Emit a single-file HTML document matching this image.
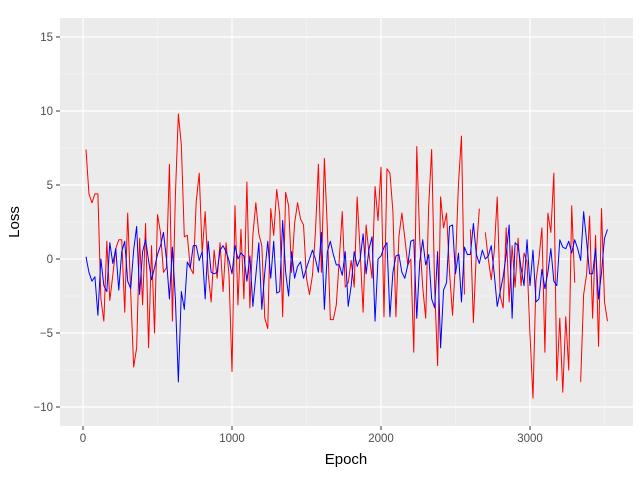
<!DOCTYPE html>
<html><head><meta charset="utf-8"><style>
html,body{margin:0;padding:0;background:#fff;}
svg{display:block;font-family:"Liberation Sans",sans-serif;}
</style></head><body>
<svg id="chart" width="640" height="480">
<rect x="60" y="18" width="573" height="408" fill="#ebebeb"/>
<g id="grid"></g><g id="series"></g><g id="axes"></g>
<text x="346" y="464" text-anchor="middle" font-size="15" fill="#000">Epoch</text>
<text transform="translate(19,222) rotate(-90)" text-anchor="middle" font-size="15" fill="#000">Loss</text>
</svg>
<script>
const epochStart = 20, epochStep = 20;
const redLoss = [7.4,4.4,3.8,4.4,4.4,-2.7,-4.2,1.2,-2.8,-1.1,
0.7,1.3,1.3,-3.6,3.1,-2.2,-7.3,-6.0,1.4,-3.1,
2.4,-6.0,0.9,-5.0,3.0,1.8,-0.9,-0.6,6.4,-4.2,
4.3,9.8,7.7,1.5,1.6,-0.6,-1.0,3.9,5.8,0.4,
3.2,-1.0,-2.9,0.6,-1.3,1.1,-2.2,1.1,-1.1,-7.6,
3.6,-3.1,2.0,-2.7,5.2,-3.3,1.6,3.8,1.7,0.9,
-4.0,-4.7,3.4,1.6,4.7,3.0,-3.9,4.5,3.6,-0.9,
2.4,3.8,2.7,2.3,-1.3,-2.4,-1.1,1.8,6.4,-0.9,
6.8,2.0,-4.1,-4.1,-3.1,0,3.2,-1.9,-1.6,-0.1,
-1.9,4.2,0.5,-3.6,2.3,0.3,-1.3,4.9,2.6,6.2,
-3.9,6.1,5.8,3.2,-3.9,1.5,3.1,1.4,-0.4,0,
-6.3,7.6,1.3,-1.9,-4.0,3.6,7.4,-1.9,-7.2,4.2,
2.1,3.1,-0.9,-3.8,-0.3,5.1,8.3,-2.4,null,2.0,
-4.3,0.5,3.4,null,1.8,0,-1.4,0.5,4.2,-2.5,
-3.3,2.1,-2.9,0.9,-1.9,1.4,-1.8,0.4,-0.2,-5.1,
-9.4,-1.5,0,2.1,-6.3,3.1,1.8,5.8,-8.2,-4.0,
-9.0,-3.9,-7.5,3.6,-1.6,null,-8.3,-2.4,-1.0,2.9,
-4.0,1.6,-5.9,3.4,-2.9,-4.2];
const blueLoss = [0.15,-0.9,-1.5,-1.2,-3.8,0,-1.8,-2.2,1.1,-0.3,
0.7,-2.1,0.5,1.2,-1.5,-2.0,0.6,2.2,-2.4,0.5,
1.3,-0.1,-1.4,-0.6,0.3,0.9,1.8,0,-2.7,0.8,
-2.7,-8.3,-2.2,-3.4,-0.2,-0.6,0.9,0.9,-0.1,0.5,
-2.7,1.2,-0.9,-1.0,-0.9,0.6,0.9,0.5,-0.1,-1.0,
0.9,0,0.4,0.2,-1.5,0.2,-3.2,-1.1,1.1,-3.4,
-0.9,1.2,-1.3,1.2,-2.3,-2.2,2.6,-0.9,-2.5,0.5,
-1.3,-0.5,-0.2,-1.3,-0.6,0,0.6,0,-0.9,1.8,
-3.4,0.5,1.2,0.3,-0.4,-0.4,-1.1,0.5,-3.2,-1.8,
0.5,-0.5,0,1.7,-1.0,0.7,1.5,-4.2,0,0.2,
0.8,1.1,-3.9,-0.9,0.2,0.3,-0.9,-1.3,-0.4,1.2,
1.3,-4.0,-0.2,1.3,-0.4,0.3,-2.7,-3.3,0.5,-6.0,
-2.1,-1.6,2.2,2.3,-1.0,0.4,-2.9,0.8,0.3,0.3,
2.4,0.3,-0.3,0.6,0,0.2,0.9,-1.0,-3.2,-2.2,
-1.2,0.3,2.3,-4.0,1.1,0.9,-0.6,-1.8,1.3,-1.8,
0.6,-2.9,-2.7,-0.7,-2.0,-0.9,0.7,-1.5,-1.8,1.3,
0.8,0.7,1.2,0.4,1.3,0.7,-0.1,3.2,1.2,-1.0,
-1.0,0.7,-2.7,-0.9,1.4,2.0];
const xTicks = [0,1000,2000,3000];
const xTickLabels = ["0","1000","2000","3000"];
const yTicks = [-10,-5,0,5,10,15];
const yTickLabels = ["\u221210","\u22125","0","5","10","15"];

const NS="http://www.w3.org/2000/svg";
function xs(e){return 83+0.149*e;}
function ys(v){return 259-14.8*v;}
function mk(tag,attrs,parent){const el=document.createElementNS(NS,tag);for(const k in attrs)el.setAttribute(k,attrs[k]);parent.appendChild(el);return el;}
const grid=document.getElementById('grid'), axes=document.getElementById('axes'), series=document.getElementById('series');
for(let i=0;i<xTicks.length;i++){
  const mx=xTicks[i]+500;
  if(xs(mx)<633){const m=mk('line',{x1:xs(mx),x2:xs(mx),y1:18,y2:426,stroke:'#f5f5f5','stroke-width':0.6},grid);
  
  }
  const g=mk('line',{x1:xs(xTicks[i]),x2:xs(xTicks[i]),y1:18,y2:426,stroke:'#fff','stroke-width':1.2},grid);
  
  
  const t=mk('line',{x1:xs(xTicks[i]),x2:xs(xTicks[i]),y1:426,y2:430,stroke:'#333','stroke-width':1},axes);
  
  
  const l=mk('text',{x:xs(xTicks[i]),y:442,'text-anchor':'middle','font-size':11.5,fill:'#4d4d4d'},axes);
  l.textContent=xTickLabels[i];
  
  
}
for(let i=0;i<yTicks.length;i++){
  const mv=yTicks[i]+2.5;
  if(ys(mv)>18){const m=mk('line',{x1:60,x2:633,y1:ys(mv),y2:ys(mv),stroke:'#f5f5f5','stroke-width':0.6},grid);
  
  }
  const g=mk('line',{x1:60,x2:633,y1:ys(yTicks[i]),y2:ys(yTicks[i]),stroke:'#fff','stroke-width':1.2},grid);
  
  
  const t=mk('line',{x1:56,x2:60,y1:ys(yTicks[i]),y2:ys(yTicks[i]),stroke:'#333','stroke-width':1},axes);
  
  
  const l=mk('text',{x:53,y:ys(yTicks[i])+4,'text-anchor':'end','font-size':11.5,fill:'#4d4d4d'},axes);
  l.textContent=yTickLabels[i];
  
  
}
function drawLine(vals,color,name){
  let d='',pen=false;
  vals.forEach((v,i)=>{
    if(v===null){pen=false;return;}
    const e=epochStart+i*epochStep;
    d+=(pen?'L':'M')+xs(e).toFixed(2)+','+ys(v).toFixed(2);
    pen=true;
  });
  const p=mk('path',{d:d,fill:'none',stroke:color,'stroke-width':1,'stroke-linejoin':'round'},series);
  
  
}
drawLine(redLoss,'#ff0000','red-loss-line');
drawLine(blueLoss,'#0000ff','blue-loss-line');
</script>
</body></html>
